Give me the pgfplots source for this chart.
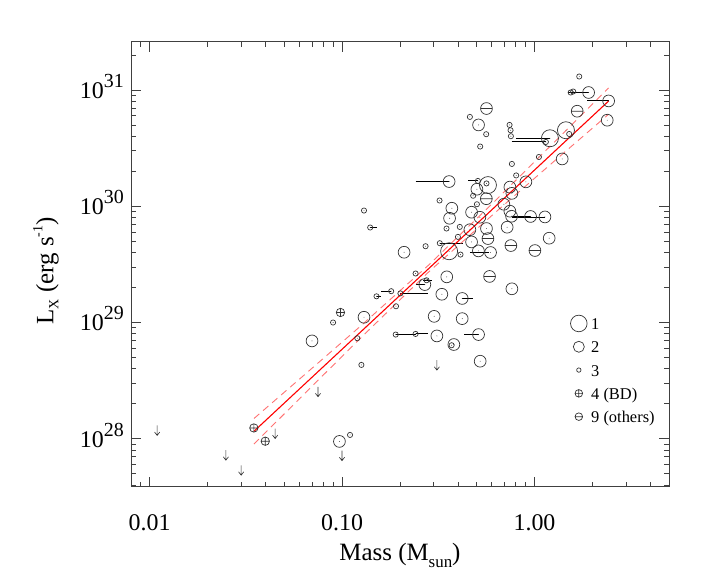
\documentclass[border=0pt]{standalone}
\usepackage{fontspec}
\setmainfont{Liberation Serif}
\usepackage{pgfplots}
\usepackage{pgfplotstable}
\pgfplotsset{compat=1.18}

\pgfdeclareplotmark{circdot}{%
  \pgfpathcircle{\pgfpointorigin}{\pgfplotmarksize}%
  \pgfusepathqstroke
  \pgfpathcircle{\pgfpointorigin}{0.45pt}%
  \pgfusepathqfill}
\pgfdeclareplotmark{circminus}{%
  \pgfpathcircle{\pgfpointorigin}{\pgfplotmarksize}%
  \pgfpathmoveto{\pgfqpoint{-\pgfplotmarksize}{0pt}}%
  \pgfpathlineto{\pgfqpoint{\pgfplotmarksize}{0pt}}%
  \pgfusepathqstroke}
\pgfdeclareplotmark{downarrow}{%
  \pgfpathmoveto{\pgfqpoint{0pt}{5pt}}%
  \pgfpathlineto{\pgfqpoint{0pt}{-5pt}}%
  \pgfpathmoveto{\pgfqpoint{-2.6pt}{-1.6pt}}%
  \pgfpathlineto{\pgfqpoint{0pt}{-5pt}}%
  \pgfpathlineto{\pgfqpoint{2.6pt}{-1.6pt}}%
  \pgfusepathqstroke}

% type 1 (large circles)
\pgfplotstableread{
m L
1.457 4.50e30
1.203 3.84e30
0.573 1.52e30
0.360 4.10e29
}\typeL

% type 2 (medium circles)
\pgfplotstableread{
m L
1.911 9.50e30
2.428 8.04e30
2.388 5.49e30
1.393 2.55e30
0.512 5.00e30
0.902 1.62e30
0.360 1.63e30
0.502 1.40e30
0.745 1.46e30
0.763 1.29e30
0.372 9.61e29
0.362 7.88e29
0.471 8.88e29
0.520 8.04e29
0.693 1.04e30
0.745 9.06e29
0.760 8.20e29
0.954 8.16e29
1.133 8.09e29
0.4615 6.28e29
0.563 6.43e29
0.721 6.60e29
0.471 4.93e29
1.192 5.31e29
0.511 4.13e29
0.591 4.00e29
0.210 4.02e29
0.2692 2.12e29
0.350 2.47e29
0.763 1.95e29
0.330 1.75e29
0.421 1.61e29
0.130 1.11e29
0.301 1.13e29
0.421 1.08e29
0.311 7.67e28
0.512 7.88e28
0.0698 6.95e28
0.381 6.47e28
0.522 4.65e28
0.0969 9.50e27
}\typeM

% type 3 (small circles)
\pgfplotstableread{
m L
1.708 1.304e31
1.541 9.50e30
1.589 9.69e30
1.515 4.18e30
1.146 3.57e30
1.054 2.65e30
0.4615 5.86e30
0.561 4.16e30
0.522 3.26e30
0.742 5.00e30
0.751 4.50e30
0.754 4.00e30
0.763 2.31e30
0.803 1.84e30
0.508 1.65e30
0.563 1.57e30
0.480 1.23e30
0.321 1.12e30
0.502 1.04e30
0.349 6.43e29
0.409 6.64e29
0.400 5.45e29
0.322 4.81e29
0.4126 3.84e29
0.2716 4.53e29
0.130 9.18e29
0.140 6.56e29
0.241 2.64e29
0.2748 2.31e29
0.180 1.86e29
0.151 1.68e29
0.201 1.78e29
0.1907 1.38e29
0.0898 1.00e29
0.190 7.88e28
0.241 7.98e28
0.120 7.33e28
0.371 6.38e28
0.126 4.32e28
0.110 1.08e28
}\typeS

% type 9 (others)
\pgfplotstableread{
m L
1.667 6.56e30
0.563 6.92e30
0.562 1.16e30
0.573 5.27e29
0.754 4.59e29
1.005 4.16e29
0.584 2.49e29
}\typeO

% type 4 (BD)
\pgfplotstableread{
m L
0.0981 1.22e29
0.0348 1.24e28
0.0399 9.54e27
}\typeBD

% upper limits
\pgfplotstableread{
m L
0.311 4.30e28
0.0750 2.54e28
0.01094 1.18e28
0.0249 7.23e27
0.0299 5.37e27
0.0449 1.11e28
0.0999 7.16e27
}\uplim

% mass ranges
\pgfplotstableread{
m L
1.497 9.50e30
1.911 9.50e30
nan nan
1.879 8.04e30
2.428 8.04e30
nan nan
0.800 3.79e30
1.203 3.79e30
nan nan
0.760 3.57e30
1.146 3.57e30
nan nan
0.241 1.63e30
0.360 1.63e30
nan nan
0.452 1.65e30
0.508 1.65e30
nan nan
0.760 8.16e29
0.954 8.16e29
nan nan
0.760 8.05e29
1.133 8.05e29
nan nan
0.322 4.81e29
0.426 4.81e29
nan nan
0.4615 4.02e29
0.578 4.02e29
nan nan
0.140 6.56e29
0.151 6.56e29
nan nan
0.263 2.31e29
0.293 2.31e29
nan nan
0.241 2.12e29
0.2692 2.12e29
nan nan
0.160 1.86e29
0.180 1.86e29
nan nan
0.151 1.68e29
0.159 1.68e29
nan nan
0.201 1.78e29
0.280 1.78e29
nan nan
0.421 1.61e29
0.480 1.61e29
nan nan
0.190 7.88e28
0.241 7.88e28
nan nan
0.241 7.98e28
0.280 7.98e28
nan nan
0.431 7.88e28
0.512 7.88e28
}\ranges

% fit and confidence band
\pgfplotstableread{
m L
0.03486 1.161e28
2.427 8.02e30
}\fit
\pgfplotstableread{
m L
0.03486 1.496e28
0.0631 3.50e28
0.1259 9.44e28
0.2818 3.12e29
0.631 1.132e30
1.259 3.52e30
2.427 1.040e31
}\fitup
\pgfplotstableread{
m L
0.03486 9.02e27
0.0631 2.40e28
0.1259 7.46e28
0.2818 2.72e29
0.631 8.95e29
1.259 2.42e30
2.427 6.18e30
}\fitlo

\begin{document}
\begin{tikzpicture}
\path[use as bounding box] (-131bp,-84.3bp) rectangle (578bp,486.7bp);
\begin{axis}[
  xmode=log, ymode=log,
  scale only axis, width=538bp, height=445bp,
  xmin=0.008, xmax=5, ymin=3.88e27, ymax=2.6e31,
  axis line style={black!75, line width=0.8bp},
  tick style={black!75, line width=0.8bp},
  tick align=inside,
  major tick length=10bp, minor tick length=5bp,
  xtick={0.01,0.1,1}, xticklabels={0.01,0.10,1.00},
  minor xtick={0.009,0.02,0.03,0.04,0.05,0.06,0.07,0.08,0.09,0.2,0.3,0.4,0.5,0.6,0.7,0.8,0.9,2,3,4},
  ytick={1e28,1e29,1e30,1e31},
  yticklabels={10\raisebox{11bp}{\fontsize{20}{20}\selectfont 28},
               10\raisebox{11bp}{\fontsize{20}{20}\selectfont 29},
               10\raisebox{11bp}{\fontsize{20}{20}\selectfont 30},
               10\raisebox{11bp}{\fontsize{20}{20}\selectfont 31}},
  minor ytick={4e27,5e27,6e27,7e27,8e27,9e27,2e28,3e28,4e28,5e28,6e28,7e28,8e28,9e28,2e29,3e29,4e29,5e29,6e29,7e29,8e29,9e29,2e30,3e30,4e30,5e30,6e30,7e30,8e30,9e30,2e31},
  xticklabel style={font=\fontsize{24}{24}\selectfont, anchor=north, inner sep=0pt, yshift=-28bp},
  yticklabel style={font=\fontsize{24}{24}\selectfont, anchor=base east, inner sep=0pt, xshift=-7bp, yshift=-8.3bp},
  xlabel={Mass (M\raisebox{-7bp}{\fontsize{17}{17}\selectfont sun})},
  ylabel={L\raisebox{-5bp}{\fontsize{14}{14}\selectfont X} (erg s\raisebox{11bp}{\fontsize{14}{14}\selectfont -1})},
  xlabel style={font=\fontsize{25}{25}\selectfont, at={([yshift=-74bp]axis description cs:0.5,0)}, anchor=base, inner sep=0pt},
  ylabel style={font=\fontsize{25}{25}\selectfont, at={([xshift=-77.7bp]axis description cs:0,0.485)}, anchor=base, inner sep=0pt},
  legend image code/.code={\draw[#1] plot coordinates {(0bp,0bp)};},
  legend cell align=left,
  legend style={at={(0.8166,0.3874)}, anchor=north west, draw=none, fill=none, inner sep=0pt,
    row sep=5.3bp, column sep=4.05bp, font=\fontsize{16.5}{16.5}\selectfont,
    nodes={inner sep=0pt, text height=15bp, text depth=3bp}},
]
\addplot[forget plot, black, line width=1bp, unbounded coords=jump] table[x=m,y=L] {\ranges};
\addplot[forget plot, only marks, mark=circdot, mark size=8.5bp, black!80, line width=0.7bp, mark options={solid}] table[x=m,y=L] {\typeL};
\addplot[forget plot, only marks, mark=circdot, mark size=5.9bp, black!80, line width=0.7bp, mark options={solid}] table[x=m,y=L] {\typeM};
\addplot[forget plot, only marks, mark=circdot, mark size=2.6bp, black!80, line width=0.7bp, mark options={solid}] table[x=m,y=L] {\typeS};
\addplot[forget plot, only marks, mark=circminus, mark size=5.9bp, black!80, line width=0.7bp, mark options={solid}] table[x=m,y=L] {\typeO};
\addplot[forget plot, only marks, mark=oplus, mark size=4.2bp, black!80, line width=0.7bp, mark options={solid}] table[x=m,y=L] {\typeBD};
\addplot[forget plot, only marks, mark=downarrow, black!80, line width=0.6bp, mark options={solid}] table[x=m,y=L] {\uplim};
\addplot[forget plot, red!55, line width=0.9bp, dash pattern=on 7bp off 5bp] table[x=m,y=L] {\fitup};
\addplot[forget plot, red!55, line width=0.9bp, dash pattern=on 7bp off 5bp] table[x=m,y=L] {\fitlo};
\addplot[forget plot, red, line width=1.1bp] table[x=m,y=L] {\fit};
\addlegendimage{only marks, mark=o, mark size=8.3bp, black!80, line width=0.7bp}
\addlegendentry{1}
\addlegendimage{only marks, mark=o, mark size=5.5bp, black!80, line width=0.7bp}
\addlegendentry{2}
\addlegendimage{only marks, mark=o, mark size=2.2bp, black!80, line width=0.7bp}
\addlegendentry{3}
\addlegendimage{only marks, mark=oplus, mark size=3.8bp, black!80, line width=0.7bp}
\addlegendentry{4 (BD)}
\addlegendimage{only marks, mark=circminus, mark size=3.8bp, black!80, line width=0.7bp}
\addlegendentry{9 (others)}
\end{axis}
\end{tikzpicture}
\end{document}
